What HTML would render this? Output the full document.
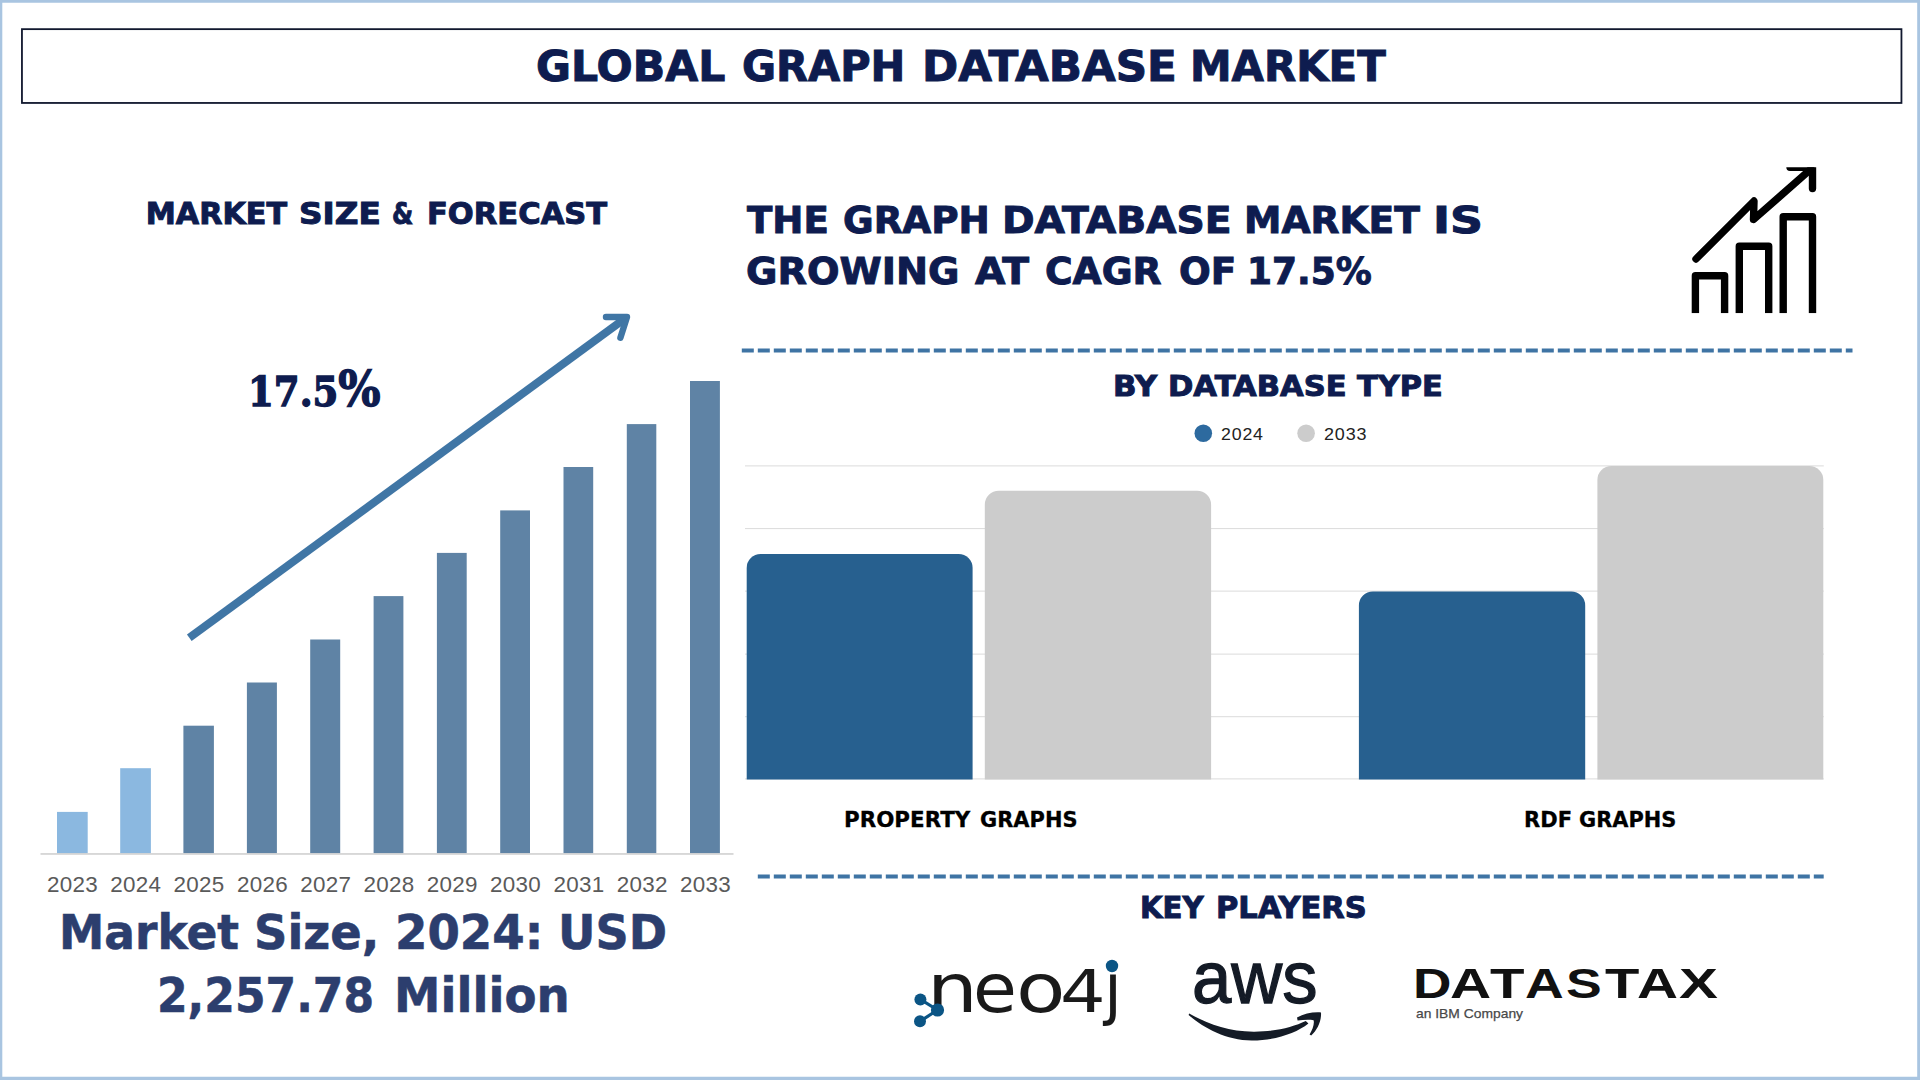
<!DOCTYPE html>
<html lang="en">
<head>
<meta charset="utf-8">
<title>Global Graph Database Market</title>
<style>
html,body{margin:0;padding:0;background:#fff;}
body{width:1920px;height:1080px;overflow:hidden;position:relative;font-family:"Liberation Sans",sans-serif;}
.abs{position:absolute;}
.t{position:absolute;white-space:nowrap;transform-origin:0 0;line-height:1;margin:0;}
.w{position:relative;display:inline-block;transform-origin:0 0;}
.hd{font-family:"DejaVu Sans","Liberation Sans",sans-serif;font-weight:bold;color:#0e1c4f;-webkit-text-stroke:1.0px #0e1c4f;}
.yr{position:absolute;top:873px;width:64px;text-align:center;font-size:22.4px;line-height:24px;color:#5a5a5a;letter-spacing:0.3px;}
</style>
</head>
<body>
<svg class="abs" id="frame" style="left:0;top:0;" width="1920" height="1080" viewBox="0 0 1920 1080">
  <path fill="#a9c5e1" fill-rule="evenodd" d="M0 0H1920V1080H0Z M2.3 2.8V1076.8H1917.2V2.8Z"/>
  <rect x="21.95" y="29.15" width="1879.5" height="73.8" fill="none" stroke="#11182e" stroke-width="1.8"/>
</svg>

<!-- Title -->
<h1 class="t hd" id="title" style="left:0;top:45.7px;font-size:42.5px;"><span class="w" style="left:536.4px;transform:scaleX(1.002);">GLOBAL</span> <span class="w" style="left:538.5px;transform:scaleX(0.977);">GRAPH</span> <span class="w" style="left:535.8px;transform:scaleX(1.026);">DATABASE</span> <span class="w" style="left:540.7px;transform:scaleX(0.984);">MARKET</span></h1>

<!-- Left: market size & forecast -->
<h2 class="t hd" id="h-left" style="left:0;top:199.2px;font-size:30.2px;"><span class="w" style="left:145.8px;transform:scaleX(1.000);">MARKET</span> <span class="w" style="left:147.0px;transform:scaleX(1.084);">SIZE</span> <span class="w" style="left:154.2px;transform:scaleX(0.805);">&amp;</span> <span class="w" style="left:152.7px;transform:scaleX(1.012);">FORECAST</span></h2>
<div class="t" id="cagr" style="left:247.9px;top:358.7px;font-family:'DejaVu Serif','Liberation Serif',serif;font-weight:bold;font-size:40.5px;color:#0e1c4f;-webkit-text-stroke:1.4px #0e1c4f;transform:scaleX(0.916);line-height:60px;">17.5<span style="font-size:1.2em;">%</span></div>

<svg class="abs" id="trend" style="left:0;top:0;" width="760" height="700" viewBox="0 0 760 700">
  <g fill="none" stroke="#4076a5">
    <line x1="189.3" y1="637.8" x2="625" y2="318.5" stroke-width="8"/>
    <polyline points="606,317 627,317 620.4,337.8" stroke-width="6.4" stroke-linecap="round" stroke-linejoin="round"/>
  </g>
</svg>

<svg class="abs" id="bars" style="left:0;top:0;" width="760" height="870" viewBox="0 0 760 870">
  <rect x="57.0" y="811.9" width="30.7" height="41.7" fill="#8bb8e0"/>
  <rect x="120.2" y="768.2" width="30.7" height="85.4" fill="#8bb8e0"/>
  <rect x="183.4" y="725.7" width="30.5" height="127.9" fill="#5f83a5"/>
  <rect x="246.9" y="682.5" width="30.0" height="171.1" fill="#5f83a5"/>
  <rect x="310.2" y="639.5" width="30.0" height="214.1" fill="#5f83a5"/>
  <rect x="373.6" y="596.1" width="29.8" height="257.5" fill="#5f83a5"/>
  <rect x="436.9" y="552.9" width="29.8" height="300.7" fill="#5f83a5"/>
  <rect x="500.2" y="510.4" width="29.8" height="343.2" fill="#5f83a5"/>
  <rect x="563.5" y="467.0" width="29.7" height="386.6" fill="#5f83a5"/>
  <rect x="626.8" y="424.1" width="29.5" height="429.5" fill="#5f83a5"/>
  <rect x="690.0" y="381.0" width="29.9" height="472.6" fill="#5f83a5"/>
  <rect x="40.5" y="853.1" width="693" height="1.7" fill="#d3d3d3"/>
</svg>
<div id="years">
  <div class="yr" style="left:40.5px;">2023</div>
  <div class="yr" style="left:103.8px;">2024</div>
  <div class="yr" style="left:167.1px;">2025</div>
  <div class="yr" style="left:230.4px;">2026</div>
  <div class="yr" style="left:293.7px;">2027</div>
  <div class="yr" style="left:357px;">2028</div>
  <div class="yr" style="left:420.3px;">2029</div>
  <div class="yr" style="left:483.6px;">2030</div>
  <div class="yr" style="left:546.9px;">2031</div>
  <div class="yr" style="left:610.2px;">2032</div>
  <div class="yr" style="left:673.5px;">2033</div>
</div>

<div class="t" id="ms1" style="left:0;top:908.4px;font-size:48.4px;font-family:'DejaVu Sans','Liberation Sans',sans-serif;font-weight:bold;color:#2c3e6e;-webkit-text-stroke:0.6px #2c3e6e;"><span class="w" style="left:58.5px;transform:scaleX(0.940);">Market</span> <span class="w" style="left:45.9px;transform:scaleX(0.958);">Size,</span> <span class="w" style="left:38.9px;transform:scaleX(0.963);">2024:</span> <span class="w" style="left:30.9px;transform:scaleX(0.954);">USD</span></div>
<div class="t" id="ms2" style="left:0;top:971.2px;font-size:48.4px;font-family:'DejaVu Sans','Liberation Sans',sans-serif;font-weight:bold;color:#2c3e6e;-webkit-text-stroke:0.6px #2c3e6e;"><span class="w" style="left:157.2px;transform:scaleX(0.909);">2,257.78</span> <span class="w" style="left:137.9px;transform:scaleX(0.964);">Million</span></div>

<!-- Right: headline -->
<div class="t hd" id="hl1" style="left:0;top:200.9px;font-size:38.1px;"><span class="w" style="left:747.3px;transform:scaleX(0.976);">THE</span> <span class="w" style="left:745.8px;transform:scaleX(0.980);">GRAPH</span> <span class="w" style="left:741.7px;transform:scaleX(1.032);">DATABASE</span> <span class="w" style="left:747.5px;transform:scaleX(0.987);">MARKET</span> <span class="w" style="left:745.4px;transform:scaleX(1.202);">IS</span></div>
<div class="t hd" id="hl2" style="left:0;top:251.7px;font-size:38.1px;"><span class="w" style="left:745.7px;transform:scaleX(1.006);">GROWING</span> <span class="w" style="left:749.6px;transform:scaleX(1.031);">AT</span> <span class="w" style="left:754.1px;transform:scaleX(0.988);">CAGR</span> <span class="w" style="left:756.2px;transform:scaleX(0.981);">OF</span> <span class="w" style="left:753.0px;transform:scaleX(0.944);">17.5%</span></div>

<svg class="abs" id="icon" style="left:1680px;top:155px;" width="150" height="165" viewBox="1680 155 150 165">
  <defs><clipPath id="icclip"><rect x="1680" y="167.2" width="150" height="146"/></clipPath></defs>
  <g fill="none" stroke="#000" stroke-width="7.4" stroke-linejoin="round" clip-path="url(#icclip)">
    <path d="M1695.4 313.2 V275.8 H1724.6 V313.2"/>
    <path d="M1739.3 313.2 V246.3 H1768.7 V313.2"/>
    <path d="M1783.2 313.2 V216.8 H1812.5 V313.2"/>
    <path d="M1696 259 L1754 201 L1753.5 219.5 L1811 169" stroke-linecap="round"/>
    <path d="M1790 167.3 H1812.5 V188.5" stroke-linecap="round" stroke-linejoin="miter"/>
  </g>
</svg>

<!-- dashed separators -->
<svg class="abs" style="left:0;top:0;" width="1920" height="1080" viewBox="0 0 1920 1080">
  <line x1="741.8" y1="350.5" x2="1852.5" y2="350.5" stroke="#3f74a4" stroke-width="4" stroke-dasharray="12 4"/>
  <line x1="757.8" y1="876.4" x2="1823.7" y2="876.4" stroke="#3f74a4" stroke-width="4" stroke-dasharray="12 4"/>
</svg>

<!-- By database type -->
<h2 class="t hd" id="h-type" style="left:0;top:372.0px;font-size:29.2px;"><span class="w" style="left:1113.1px;transform:scaleX(1.058);">BY</span> <span class="w" style="left:1116.2px;transform:scaleX(1.047);">DATABASE</span> <span class="w" style="left:1124.6px;transform:scaleX(1.041);">TYPE</span></h2>
<div class="t" id="lg1" style="left:1220.8px;top:425.8px;font-size:17.0px;color:#222;letter-spacing:0.8px;transform:scaleX(1.043);">2024</div>
<div class="t" id="lg2" style="left:1323.7px;top:425.8px;font-size:17.0px;color:#222;letter-spacing:0.8px;transform:scaleX(1.057);">2033</div>

<svg class="abs" id="tchart" style="left:0;top:0;" width="1920" height="800" viewBox="0 0 1920 800">
  <circle cx="1203.3" cy="433.2" r="8.8" fill="#2d6a9f"/>
  <circle cx="1306.1" cy="433.2" r="8.8" fill="#cccccc"/>
  <rect x="745" y="465.4" width="1078.8" height="1" fill="#dbdbdb"/>
  <rect x="745" y="528.1" width="1078.8" height="1" fill="#dbdbdb"/>
  <rect x="745" y="590.6" width="1078.8" height="1" fill="#dbdbdb"/>
  <rect x="745" y="653.6" width="1078.8" height="1" fill="#dbdbdb"/>
  <rect x="745" y="716.2" width="1078.8" height="1" fill="#dbdbdb"/>
  <rect x="745" y="778.4" width="1078.8" height="1" fill="#dbdbdb"/>
  <path d="M746.7 779.4 V568.0 A14 14 0 0 1 760.7 554.0 H958.6 A14 14 0 0 1 972.6 568.0 V779.4 Z" fill="#27608f"/>
  <path d="M984.8 779.4 V504.7 A14 14 0 0 1 998.8 490.7 H1197.1 A14 14 0 0 1 1211.1 504.7 V779.4 Z" fill="#cccccc"/>
  <path d="M1358.9 779.4 V605.5 A14 14 0 0 1 1372.9 591.5 H1571.2 A14 14 0 0 1 1585.2 605.5 V779.4 Z" fill="#27608f"/>
  <path d="M1597.4 779.4 V480.0 A14 14 0 0 1 1611.4 466.0 H1809.3 A14 14 0 0 1 1823.3 480.0 V779.4 Z" fill="#cccccc"/>
</svg>

<div class="t" id="lb1" style="left:0;top:809.2px;font-size:22.0px;font-family:'DejaVu Sans','Liberation Sans',sans-serif;font-weight:bold;color:#000;-webkit-text-stroke:0.3px #000;"><span class="w" style="left:844.2px;transform:scaleX(0.973);">PROPERTY</span> <span class="w" style="left:842.9px;transform:scaleX(0.952);">GRAPHS</span></div>
<div class="t" id="lb2" style="left:0;top:809.2px;font-size:22.0px;font-family:'DejaVu Sans','Liberation Sans',sans-serif;font-weight:bold;color:#000;-webkit-text-stroke:0.3px #000;"><span class="w" style="left:1524.2px;transform:scaleX(0.956);">RDF</span> <span class="w" style="left:1521.3px;transform:scaleX(0.950);">GRAPHS</span></div>

<!-- Key players -->
<h2 class="t hd" id="h-key" style="left:0;top:893.1px;font-size:29.8px;"><span class="w" style="left:1139.7px;transform:scaleX(0.979);">KEY</span> <span class="w" style="left:1140.2px;transform:scaleX(1.023);">PLAYERS</span></h2>
<!-- neo4j -->
<div class="t" id="neo" style="left:0;top:955.8px;font-size:67px;font-family:'DejaVu Sans','Liberation Sans',sans-serif;color:#1a1a1a;"><span class="w" style="left:927.2px;font-size:67.0px;transform:scaleX(1.197);">n</span><span class="w" style="left:930.5px;font-size:67.0px;transform:scaleX(1.064);">e</span><span class="w" style="left:931.9px;font-size:67.0px;transform:scaleX(1.207);">o</span><span class="w" style="left:935.6px;font-size:59.0px;transform:scaleX(1.216);">4</span><span class="w" style="left:941.5px;font-size:67.0px;transform:scaleX(0.964);">j</span></div>
<svg class="abs" id="neo-ic" style="left:905px;top:955px;" width="230" height="80" viewBox="905 955 230 80">
  <g stroke="#0b5585" stroke-width="3.2" fill="none">
    <line x1="920.4" y1="999.4" x2="937.5" y2="1010"/>
    <line x1="937.5" y1="1010" x2="920" y2="1021.3"/>
  </g>
  <g fill="#0b5585">
    <circle cx="920.4" cy="999.4" r="6"/>
    <circle cx="937.5" cy="1010" r="6.6"/>
    <circle cx="920" cy="1021.3" r="6"/>
  </g>
</svg>
<svg class="abs" id="neo-dot" style="left:1100px;top:955px;" width="26" height="20" viewBox="1100 955 26 20">
  <rect x="1103" y="955" width="20" height="18" fill="#fff"/>
  <circle cx="1112" cy="966" r="6.2" fill="#0b5585"/>
</svg>

<!-- aws -->
<div class="t" id="aws" style="left:1191.5px;top:940.3px;font-weight:normal;-webkit-text-stroke:1.3px #141b26;font-size:75.0px;color:#141b26;transform:scaleX(0.941);">aws</div>
<svg class="abs" id="aws-sm" style="left:1180px;top:1005px;" width="150" height="45" viewBox="1180 1005 150 45">
  <path fill="#141b26" d="M1189.2 1013.6 C1206 1023 1228 1031.6 1253.7 1031.7 C1275 1031.8 1293 1027 1305.8 1021 L1308.4 1023.6 C1296 1033.5 1275 1040.6 1251.7 1040.5 C1226 1040.4 1203 1027.5 1188.6 1015 Z"/>
  <path fill="#141b26" d="M1297 1017.6 C1304 1013.5 1313 1011.8 1321 1012.4 C1321.6 1020.5 1317.5 1030 1311.2 1035.4 L1309.6 1034.6 C1312.6 1029.5 1314.6 1024 1313.6 1020.2 C1309 1019.3 1303 1019.8 1297.6 1020.6 Z"/>
</svg>

<!-- datastax -->
<div class="t" id="dsx" style="left:0;top:963.4px;font-size:42.0px;font-family:'Liberation Sans',sans-serif;font-weight:bold;color:#111;"><span class="w" style="left:1412.8px;transform:scaleX(1.268);">D</span><span class="w" style="left:1419.7px;transform:scaleX(1.356);">A</span><span class="w" style="left:1429.1px;transform:scaleX(1.344);">T</span><span class="w" style="left:1438.2px;transform:scaleX(1.277);">A</span><span class="w" style="left:1449.1px;transform:scaleX(1.275);">S</span><span class="w" style="left:1460.1px;transform:scaleX(1.338);">T</span><span class="w" style="left:1467.0px;transform:scaleX(1.352);">A</span><span class="w" style="left:1478.3px;transform:scaleX(1.389);">X</span></div>
<div class="t" id="ibm" style="left:1416.2px;top:1006.8px;font-size:13.6px;color:#484848;-webkit-text-stroke:0.25px #484848;transform:scaleX(1.019);">an IBM Company</div>

</body>
</html>
